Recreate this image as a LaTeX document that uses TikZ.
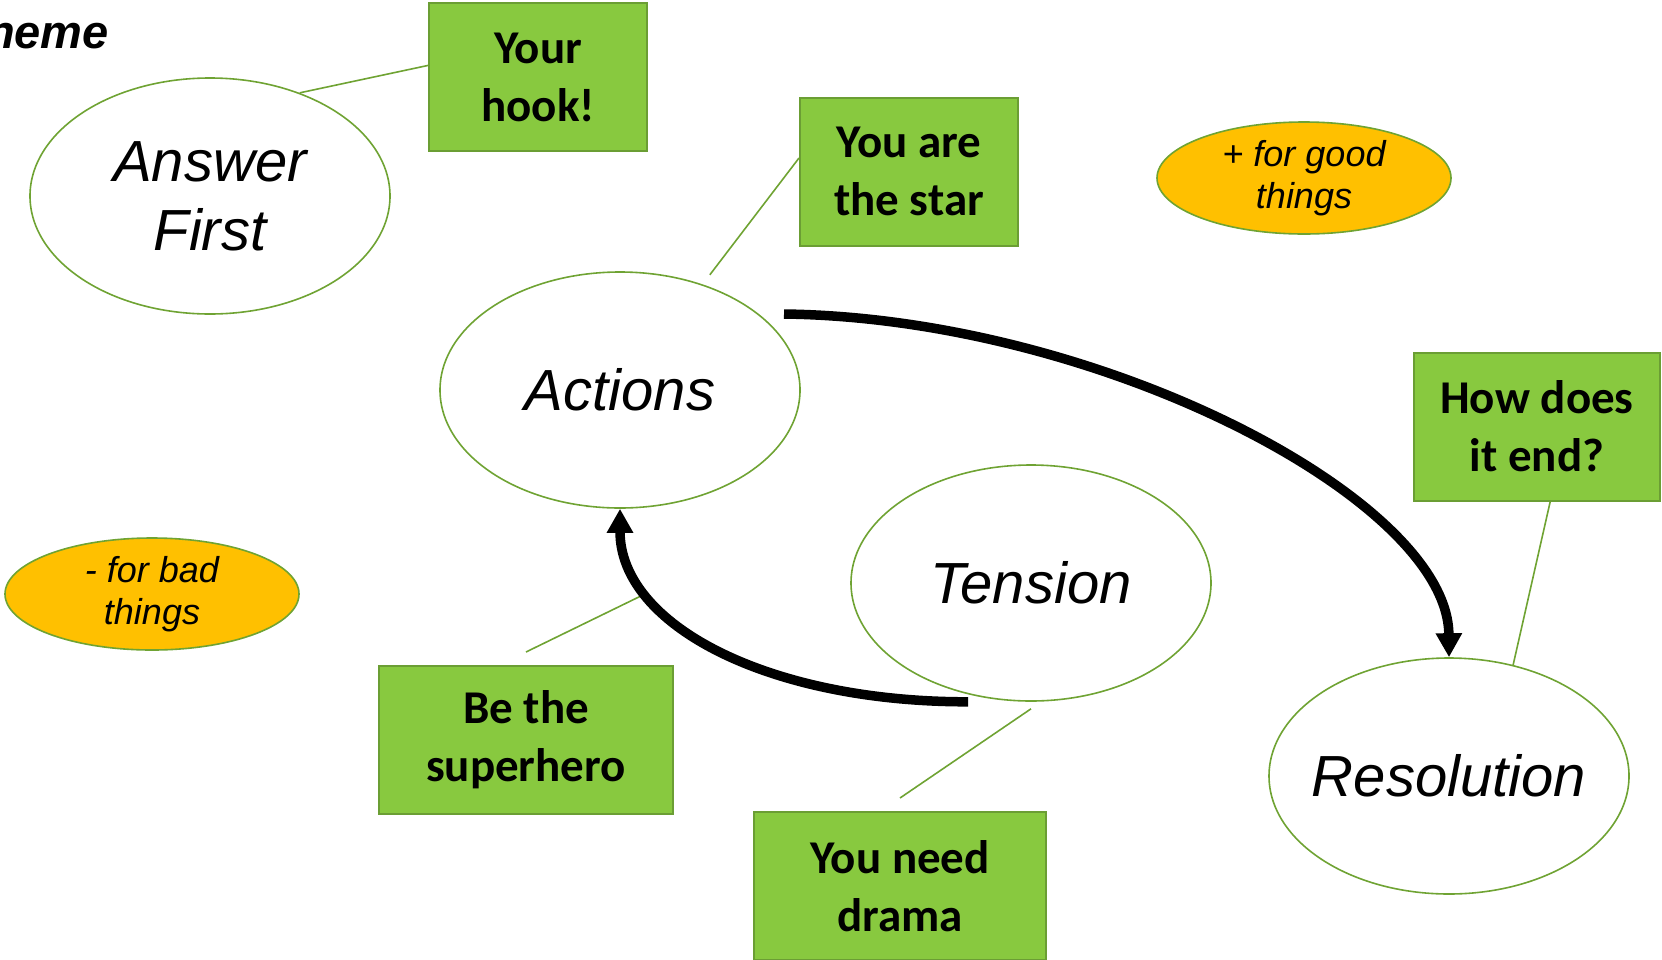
\documentclass[tikz,border=0pt]{standalone}
\usepackage{fontspec}
\setmainfont{Liberation Sans}
\newfontfamily\calibri{Carlito}
\usetikzlibrary{shapes.geometric,arrows.meta}
\definecolor{leafgreen}{HTML}{88C93F}
\definecolor{leafedge}{HTML}{6B9E34}
\definecolor{ringgreen}{HTML}{6FA333}
\definecolor{amber}{HTML}{FFC000}

\begin{document}
\begin{tikzpicture}[
    x=1pt, y=-1pt,
    stage/.style={ellipse, draw=ringgreen, line width=1.6pt, fill=white,
      minimum width=360pt, minimum height=236pt, inner xsep=-25pt, inner ysep=0pt,
      align=center, font=\fontsize{58}{69}\selectfont\itshape},
    tip/.style={ellipse, draw=ringgreen, line width=1.6pt, fill=amber,
      minimum width=294pt, minimum height=112pt, inner sep=-8pt,
      align=center, font=\fontsize{36}{42}\selectfont\itshape},
    note/.style={rectangle, draw=leafedge, line width=2pt, fill=leafgreen,
      inner sep=0pt, minimum height=148pt, align=center,
      font=\calibri\bfseries\fontsize{47}{58}\selectfont},
    link/.style={draw=ringgreen, line width=1.6pt},
    flow/.style={line width=9.5pt, -{Triangle[length=24pt,width=25pt]}}
  ]
  \useasboundingbox (0,0) rectangle (1662,959);

  % title, cut at the left edge
  \node[anchor=base east, inner sep=0pt, font=\fontsize{47}{47}\selectfont\bfseries\itshape] (title) at (109,48) {heme};

  % story stages
  \node[stage] (answer) at (210,196) {Answer\\First};
  \node[stage] (actions) at (620,390) {Actions};
  \node[stage] (tension) at (1031,583) {Tension};
  \node[stage] (resolution) at (1449,776) {Resolution};

  % plus and minus
  \node[tip] (good) at (1304,178) {+ for good\\things};
  \node[tip] (bad) at (152,594) {- for bad\\things};

  % callouts
  \node[note, minimum width=218pt] (hook) at (538,77) {Your\\hook!};
  \node[note, minimum width=218pt] (star) at (909,171.5) {You are\\the star};
  \node[note, minimum width=246pt] (howend) at (1537,426.5) {How does\\it end?};
  \node[note, minimum width=294pt] (hero) at (526,740) {Be the\\superhero};
  \node[note, minimum width=292pt] (drama) at (900,886) {You need\\drama};

  \coordinate (heroTip) at (647,593);
  \coordinate (arcStart) at (784,314);

  \draw[link] (answer.49) -- (hook.174);
  \draw[link, shorten <=12pt] (actions.52) -- (star.173);
  \draw[link] (howend.280) -- (resolution.60);
  \draw[link] ([yshift=-7pt]tension.south) -- ([yshift=13pt]drama.north);
  \draw[link] ([yshift=13pt]hero.north) -- (heroTip);

  % the story arc
  \draw[flow] (arcStart) .. controls (1100,318) and (1448,500) .. (resolution.north);
  \draw[flow] ([xshift=-63pt]tension.south) .. controls (768,702) and (620,625) .. (actions.south);
\end{tikzpicture}
\end{document}
